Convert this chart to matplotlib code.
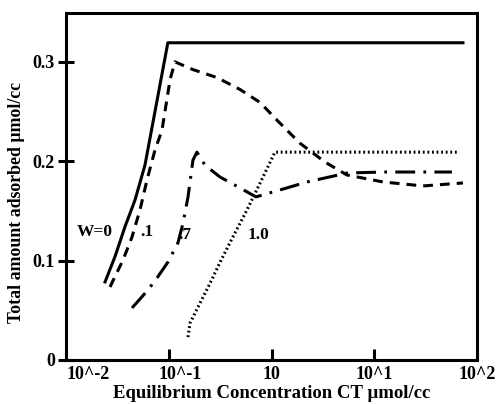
'''
Total amount adsorbed vs equilibrium concentration for several W values
'''
import matplotlib.pyplot as plt
import matplotlib.transforms as mtransforms

plt.rcParams['font.family'] = 'Liberation Serif'
plt.rcParams['font.weight'] = 'bold'

# W = 0 (solid)
x_w0 = [0.024, 0.030, 0.0375, 0.047, 0.0587, 0.098, 73]
y_w0 = [0.0785, 0.104, 0.134, 0.161, 0.196, 0.319, 0.319]

# W = .1 (dashed)
x_w1 = [0.0268, 0.0359, 0.0439, 0.0525, 0.0614, 0.0734, 0.0859, 0.103, 0.115,
        0.172, 0.295, 0.494, 0.773, 1.16, 1.89, 3.32, 5.43, 12.2, 29.8, 73]
y_w1 = [0.0734, 0.1006, 0.1237, 0.151, 0.181, 0.211, 0.231, 0.282, 0.2998,
        0.292, 0.284, 0.272, 0.259, 0.240, 0.218, 0.199, 0.186, 0.179, 0.175, 0.178]

# W = .7 (dash-dot)
x_w7 = [0.0439, 0.0628, 0.0769, 0.0984, 0.123, 0.138, 0.154, 0.172, 0.188,
        0.225, 0.315, 0.494, 0.706, 1.21, 2.22, 5.43, 12.2, 57]
y_w7 = [0.0523, 0.0704, 0.0825, 0.0986, 0.118, 0.138, 0.164, 0.201, 0.209,
        0.196, 0.184, 0.173, 0.164, 0.171, 0.179, 0.188, 0.189, 0.189]

# W = 1.0 (dotted)
x_w10 = [0.154, 0.161, 0.201, 0.252, 0.315, 0.394, 0.578, 0.826, 1.08, 64]
y_w10 = [0.023, 0.037, 0.057, 0.077, 0.098, 0.118, 0.151, 0.184, 0.209, 0.209]

xticks = [0.01, 0.1, 1, 10, 100]
xtick_labels = ['10^-2', '10^-1', '10', '10^1', '10^2']
yticks = [0, 0.1, 0.2, 0.3]
ytick_labels = ['0', '0.1', '0.2', '0.3']

fig = plt.figure(figsize=(5, 4.04), dpi=100)
ax = fig.add_axes([0.132, 0.109, 0.822, 0.859])

lw = 2.2
ax.plot(x_w0, y_w0, color='k', lw=lw, ls='-')
ax.plot(x_w1, y_w1, color='k', lw=lw, ls=(0, (3.2, 2.3)))
ax.plot(x_w7, y_w7, color='k', lw=lw, ls=(0, (6.5, 2.7, 0.9, 2.7)))
ax.plot(x_w10, y_w10, color='k', lw=lw, ls=(0, (0.6, 0.9)))

ax.text(0.0128, 0.1288, 'W=0', fontsize=12.5, va='center', ha='left')
ax.text(0.0525, 0.1288, '.1', fontsize=12.5, va='center', ha='left')
ax.text(0.123, 0.1258, '.7', fontsize=12.5, va='center', ha='left')
ax.text(0.590, 0.1258, '1.0', fontsize=12.5, va='center', ha='left')

ax.set_xscale('log')
ax.set_xlim(0.01, 100)
ax.set_ylim(0, 0.349)
ax.set_xticks(xticks)
ax.set_xticklabels(xtick_labels, fontsize=13)
ax.minorticks_off()
ax.set_yticks(yticks)
ax.set_yticklabels(ytick_labels, fontsize=13)

ax.tick_params(axis='x', direction='in', length=8, width=2.2, pad=4)
ax.tick_params(axis='y', direction='inout', length=12, width=2.2, pad=2)
for s in ax.spines.values():
    s.set_linewidth(2.2)

# shift first two x labels to the right like the original
for lab, dx in zip(ax.get_xticklabels()[:2], [22, 11]):
    lab.set_transform(lab.get_transform() + mtransforms.ScaledTranslation(dx / 100, 0, fig.dpi_scale_trans))

ax.set_xlabel('Equilibrium Concentration CT µmol/cc', fontsize=13.5, fontweight='bold', labelpad=2)
ax.set_ylabel('Total amount adsorbed µmol/cc', fontsize=12.8, fontweight='bold')
ax.yaxis.set_label_coords(-0.10, 0.455)

plt.savefig('out.png', dpi=100)
